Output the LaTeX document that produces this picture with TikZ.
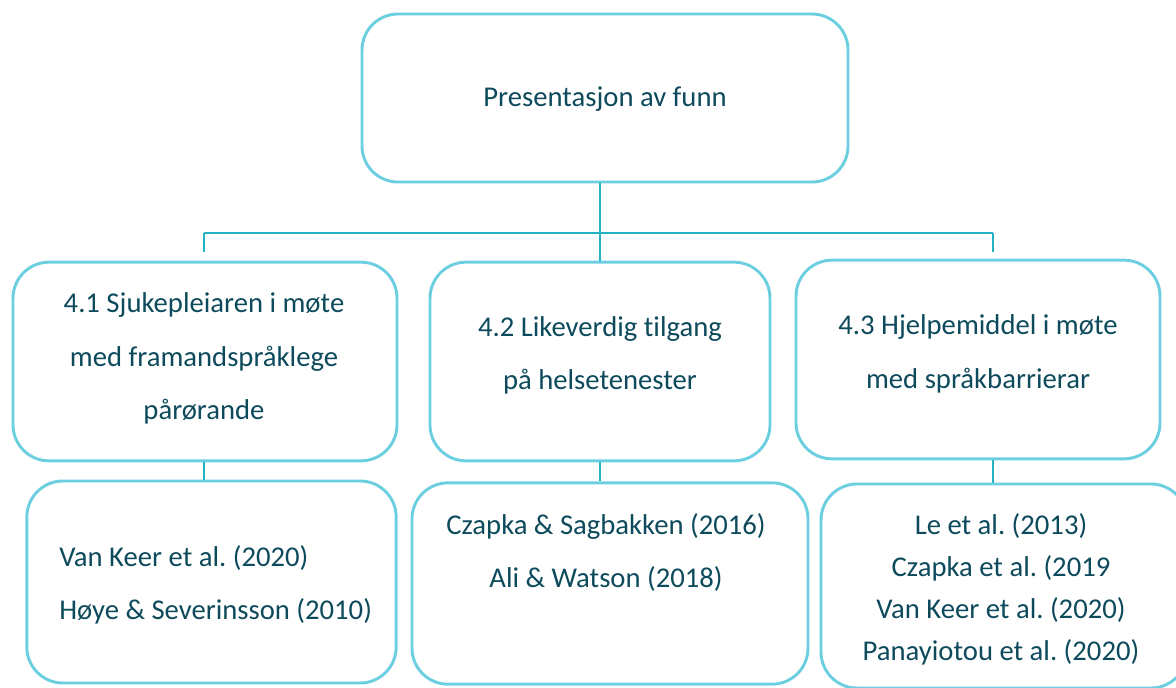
\documentclass[tikz,border=0pt]{standalone}
\usepackage{fontspec}
\setmainfont{Carlito}[Ligatures=NoCommon]
\frenchspacing
\usetikzlibrary{calc}
\definecolor{boxline}{HTML}{6CCFE0}
\definecolor{linkline}{HTML}{22B2C2}
\definecolor{inktext}{HTML}{0D4A5C}
\tikzset{
	box/.style={draw=boxline, line width=2.2pt, rounded corners=27pt, inner sep=0pt},
	txt/.style={text=inktext, align=center, inner sep=0pt, font=\fontsize{21.5}{40}\selectfont},
	link/.style={draw=linkline, line width=1.3pt}
}
\begin{document}
\begin{tikzpicture}[x=0.75pt, y=-0.75pt]
		%%%%% FRAME %%%%%
		\useasboundingbox (0, 0) rectangle (1176, 687);
		\clip (0, 0) rectangle (1176, 687);
		
		%%%%% BOXES %%%%%
		\node[box, minimum width=364.5pt, minimum height=126pt] (top) at (605, 98) {};
		
		\node[box, minimum width=288pt, minimum height=149pt] (b41) at (205, 361.5) {};
		\node[box, minimum width=255pt, minimum height=149pt] (b42) at (600, 361.5) {};
		\node[box, minimum width=273pt, minimum height=149pt] (b43) at (978, 359.5) {};
		
		\node[box, minimum width=277pt, minimum height=151.5pt] (c41) at (211.5, 582) {};
		\node[box, minimum width=297pt, minimum height=151pt] (c42) at (610, 583.5) {};
		\node[box, minimum width=274.5pt, minimum height=153pt] (c43) at (1004, 586) {};
		
		%%%%% TEXTS %%%%%
		\node[txt] (ttop) at (605, 99) {Presentasjon av funn};
		
		\node[txt] (t41) at (204, 358.5) {4.1 Sjukepleiaren i møte\\med framandspråklege\\pårørande};
		\node[txt] (t42) at (600, 355.5) {4.2 Likeverdig tilgang\\på helsetenester};
		\node[txt] (t43) at (978, 354) {4.3 Hjelpemiddel i møte\\med språkbarrierar};
		
		\node[txt, align=left, anchor=west] (u41) at (59, 584.5) {Van Keer et al. (2020)\\Høye \& Severinsson (2010)};
		\node[txt] (u42) at (606, 552.5) {Czapka \& Sagbakken (2016)\\Ali \& Watson (2018)};
		\node[txt, font=\fontsize{21.5}{31.4}\selectfont] (u43) at (1001, 589.5) {Le et al. (2013)\\Czapka et al. (2019\\Van Keer et al. (2020)\\Panayiotou et al. (2020)};
		
		%%%%% LINKS %%%%%
		\coordinate (hub) at (600, 233);
		\coordinate (hubL) at (204, 233);
		\coordinate (hubR) at (993, 233);
		\coordinate (tickL) at (204, 252);
		\coordinate (tickR) at (993, 252);
		
		\draw[link] (top.south -| hub) -- (hub) -- (b42.north -| hub);
		\draw[link] (hubL) -- (hubR);
		\draw[link] (hubL) -- (tickL);
		\draw[link] (hubR) -- (tickR);
		
		\draw[link] (b41.south -| hubL) -- (c41.north -| hubL);
		\draw[link] (b42.south -| hub) -- (c42.north -| hub);
		\draw[link] (b43.south -| hubR) -- (c43.north -| hubR);
	\end{tikzpicture}
\end{document}
